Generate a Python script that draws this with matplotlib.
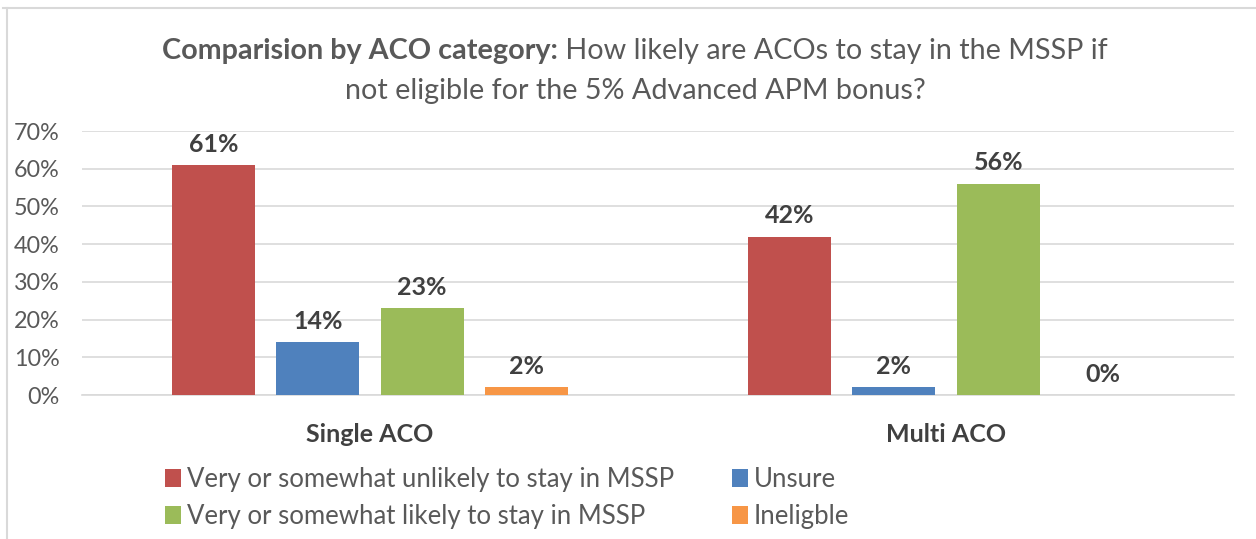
import matplotlib
matplotlib.use("Agg")
import matplotlib.pyplot as plt
from matplotlib.lines import Line2D
import numpy as np

categories = ["Single ACO", "Multi ACO"]
series_names = ["Very or somewhat unlikely to stay in MSSP", "Unsure",
                "Very or somewhat likely to stay in MSSP", "Ineligble"]
values = {
    "Very or somewhat unlikely to stay in MSSP": [61, 42],
    "Unsure": [14, 2],
    "Very or somewhat likely to stay in MSSP": [23, 56],
    "Ineligble": [2, 0],
}
colors = ["#C0504D", "#4F81BD", "#9BBB59", "#F79646"]
yticks = [0, 10, 20, 30, 40, 50, 60, 70]

W, H = 1256, 539
fig = plt.figure(figsize=(W / 100, H / 100), dpi=100)
plt.rcParams['font.family'] = ['Lato', 'DejaVu Sans']

TXT = "#595959"
DARK = "#404040"

ax = fig.add_axes([82 / W, 1 - 395 / H, (1234 - 82) / W, (395 - 131) / H])
x = np.arange(len(categories))
bw = 0.144
step = 0.1814
handles = []
for i, name in enumerate(series_names):
    pos = x + (i - 1.5) * step
    b = ax.bar(pos, values[name], width=bw, color=colors[i], label=name, zorder=3)
    handles.append(b)
    for xp, v in zip(pos, values[name]):
        ax.annotate(f"{v}%", (xp, v), xytext=(0, 15), textcoords="offset points",
                    ha="center", va="center", fontsize=18, fontweight="bold", color=DARK)

ax.set_xlim(-0.5, 1.5)
ax.set_ylim(0, 70)
ax.set_yticks(yticks)
ax.set_yticklabels([f"{t}%" for t in yticks], fontsize=16.8, color=TXT)
ax.set_xticks(x)
ax.set_xticklabels(categories, fontsize=18, fontweight="bold", color=DARK)
ax.tick_params(axis="both", length=0)
ax.tick_params(axis="y", pad=16)
ax.tick_params(axis="x", pad=20)
ax.grid(axis="y", color="#D9D9D9", linewidth=1.2, zorder=0)
for s in ["top", "right", "left"]:
    ax.spines[s].set_visible(False)
ax.spines["bottom"].set_color("#D9D9D9")
ax.spines["bottom"].set_linewidth(1.2)

# Legend (column-major order -> red, green | blue, orange)
order = [0, 2, 1, 3]
leg = fig.legend([handles[i] for i in order], [series_names[i] for i in order],
                 ncol=2, loc="upper left", bbox_to_anchor=(165 / W, 1 - 467 / H),
                 frameon=False, fontsize=18.5, handlelength=0.62, handleheight=0.68,
                 handletextpad=0.23, columnspacing=2.26, labelspacing=0.47,
                 borderaxespad=0, borderpad=0)
for t in leg.get_texts():
    t.set_color(TXT)

# Title with mixed bold / normal
bold_part = "Comparision by ACO category:"
rest_part = " How likely are ACOs to stay in the MSSP if"
line2 = "not eligible for the 5% Advanced APM bonus?"
fig.canvas.draw()
r = fig.canvas.get_renderer()
tb = fig.text(0, 0, bold_part, fontsize=20.7, fontweight="bold", color=TXT)
tr = fig.text(0, 0, rest_part, fontsize=20.7, color=TXT)
wb = tb.get_window_extent(r).width
wr = tr.get_window_extent(r).width
cx = 635
start = cx - (wb + wr) / 2
y1 = 1 - 51 / H
tb.set_position((start / W, y1))
tb.set_va("center")
tr.set_position(((start + wb) / W, y1))
tr.set_va("center")
fig.text(cx / W, 1 - 91 / H, line2, fontsize=20.7, color=TXT, ha="center", va="center")

# chart border
fig.add_artist(Line2D([3 / W, 1], [1 - 8 / H, 1 - 8 / H], color="#D9D9D9", linewidth=1.5,
                      transform=fig.transFigure))
fig.add_artist(Line2D([7 / W, 7 / W], [0, 1 - 8 / H], color="#D9D9D9", linewidth=1.5,
                      transform=fig.transFigure))

fig.savefig("out.png", dpi=100)
